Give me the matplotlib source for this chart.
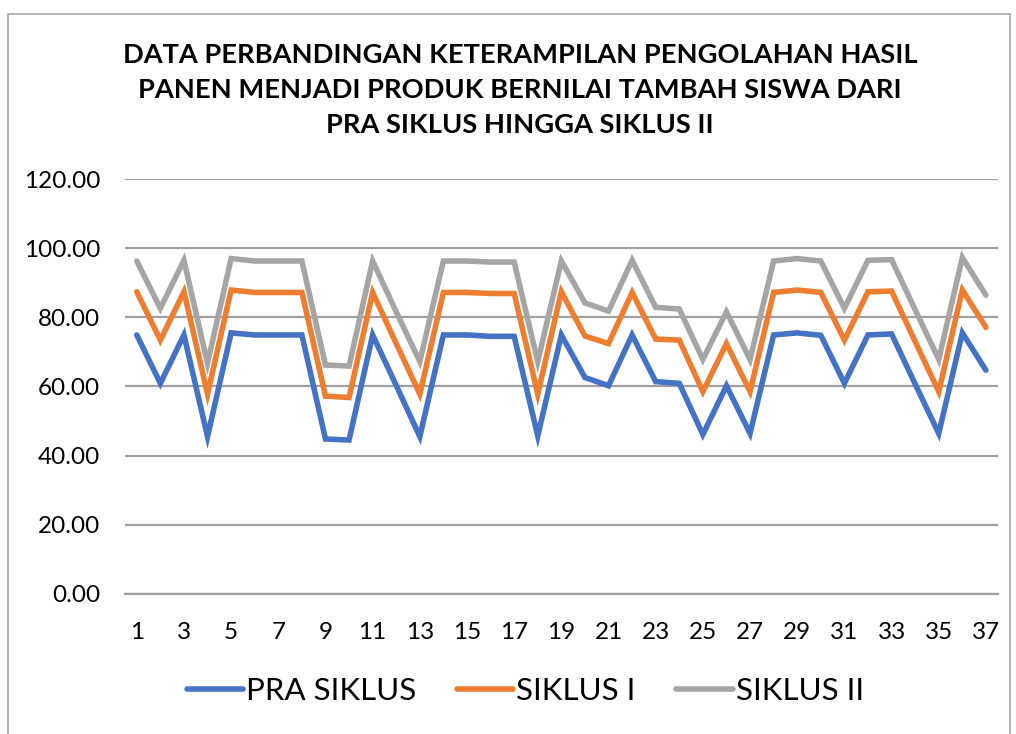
"""
Line chart: student skill scores from pre-cycle to cycle II (37 students).
"""

import matplotlib.pyplot as plt
from matplotlib.patches import Rectangle

students = list(range(1, 38))

pra_siklus = [
    74.9, 60.9, 74.9, 45.5, 75.5, 74.9, 74.9, 74.9, 44.8, 44.5,
    74.9, 60.3, 45.5, 74.9, 74.9, 74.5, 74.5, 45.7, 74.9, 62.6,
    60.2, 74.9, 61.4, 60.9, 46.1, 60.2, 46.4, 74.9, 75.5, 74.8,
    60.9, 74.9, 75.2, 60.7, 46.4, 75.5, 64.7,
]
siklus_1 = [
    87.4, 73.4, 87.4, 57.8, 87.9, 87.2, 87.2, 87.2, 57.2, 56.8,
    87.2, 72.4, 57.8, 87.2, 87.2, 86.9, 86.9, 57.8, 87.4, 74.6,
    72.4, 87.2, 73.7, 73.4, 58.5, 72.4, 58.5, 87.2, 87.9, 87.2,
    73.4, 87.4, 87.6, 73.0, 58.5, 87.9, 77.1,
]
siklus_2 = [
    96.3, 82.6, 96.5, 66.7, 97.0, 96.3, 96.3, 96.3, 66.2, 65.9,
    96.3, 81.6, 67.2, 96.3, 96.3, 96.0, 96.0, 67.2, 96.3, 84.2,
    81.8, 96.5, 82.9, 82.4, 67.8, 81.6, 67.8, 96.3, 97.0, 96.3,
    82.6, 96.5, 96.7, 82.2, 67.8, 97.3, 86.4,
]

series_names = ["PRA SIKLUS", "SIKLUS I", "SIKLUS II"]
series_colors = ["#4472C4", "#ED7D31", "#A5A5A5"]

TITLE = (
    "DATA PERBANDINGAN KETERAMPILAN PENGOLAHAN HASIL\n"
    "PANEN MENJADI PRODUK BERNILAI TAMBAH SISWA DARI\n"
    "PRA SIKLUS HINGGA SIKLUS II"
)

plt.rcParams["font.family"] = ["Lato", "DejaVu Sans"]

fig = plt.figure(figsize=(10.16, 7.34), dpi=100)
ax = fig.add_axes([0.123, 0.191, 0.859, 0.565])

# chart area border
fig.patches.append(
    Rectangle((0.008, -0.05), 0.986, 1.031, transform=fig.transFigure,
              fill=False, edgecolor="#A6A6A6", linewidth=1.2)
)

for name, vals, color in zip(series_names, [pra_siklus, siklus_1, siklus_2], series_colors):
    ax.plot(students, vals, color=color, linewidth=4.0, label=name,
            solid_joinstyle="miter", solid_capstyle="round")

ax.set_xlim(0.5, 37.5)
ax.set_ylim(0, 120)
ax.set_yticks(range(0, 121, 20))
ax.set_yticklabels([f"{v:.2f}" for v in range(0, 121, 20)])
ax.set_xticks(students[::2])
ax.set_xticklabels([str(s) for s in students[::2]])
ax.tick_params(axis="both", length=0, labelsize=17.5, colors="black")
ax.tick_params(axis="x", pad=20)
ax.tick_params(axis="y", pad=18)

ax.grid(axis="y", color="#A0A0A0", linewidth=1.6)
ax.set_axisbelow(True)
for side in ["top", "right", "left"]:
    ax.spines[side].set_visible(False)
ax.spines["bottom"].set_color("#A0A0A0")
ax.spines["bottom"].set_linewidth(1.6)

fig.text(0.512, 0.878, TITLE, ha="center", va="center", fontsize=19.6,
         fontweight="bold", linespacing=1.55)

fig.legend(loc="center", bbox_to_anchor=(0.517, 0.058), ncol=3, frameon=False,
           fontsize=22.5, handlelength=1.8, handletextpad=0.1, columnspacing=1.3)

fig.savefig("out.png", dpi=100)
